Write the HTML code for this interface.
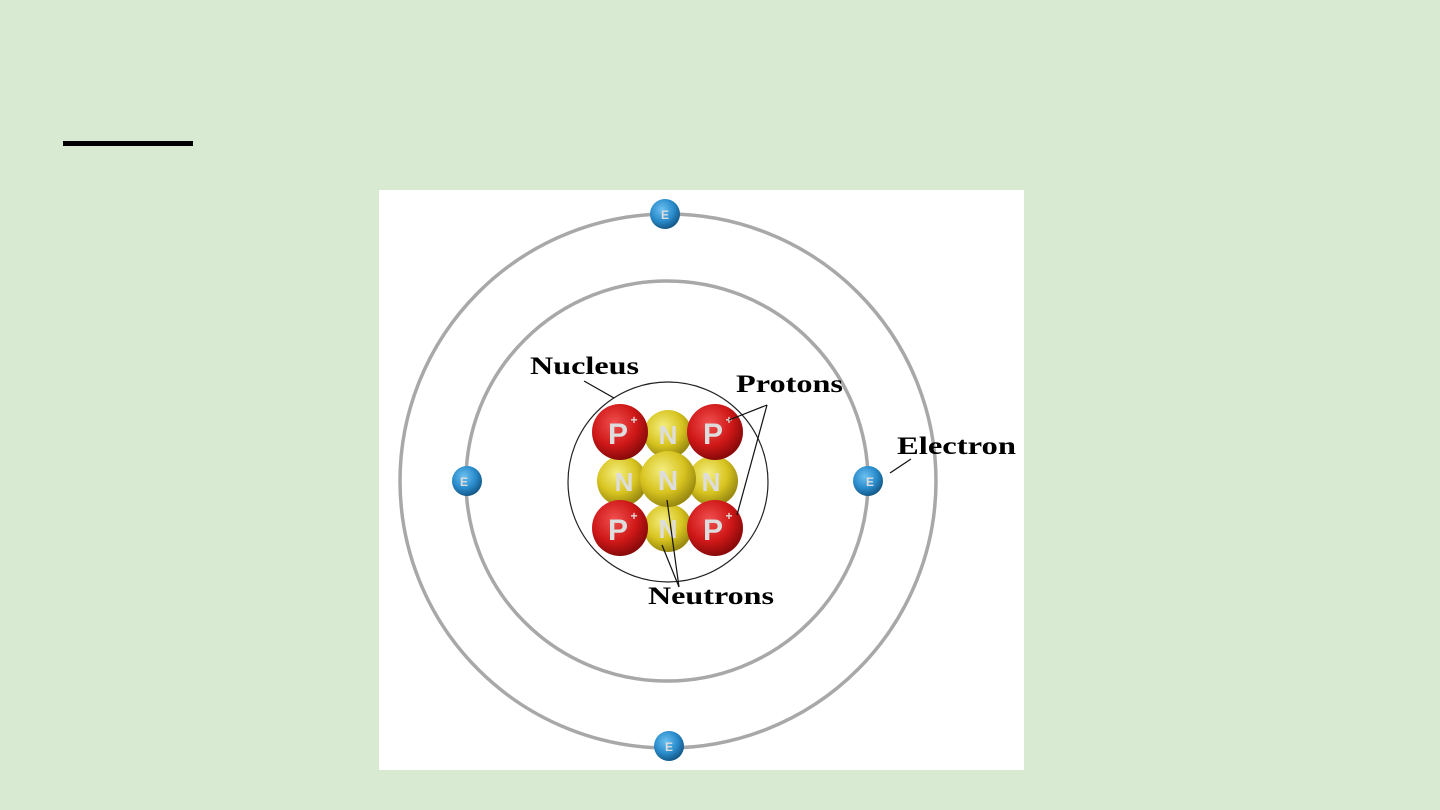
<!DOCTYPE html>
<html><head><meta charset="utf-8"><style>
html,body{margin:0;padding:0;background:#d9ead3;width:1440px;height:810px;overflow:hidden}
</style></head><body>
<svg width="1440" height="810" xmlns="http://www.w3.org/2000/svg" style="position:absolute;left:0;top:0">
<defs>
<radialGradient id="red" cx="40%" cy="35%" r="65%"><stop offset="0" stop-color="#f05050"/><stop offset="0.6" stop-color="#d01818"/><stop offset="1" stop-color="#8a0a0a"/></radialGradient>
<radialGradient id="yel" cx="40%" cy="35%" r="65%"><stop offset="0" stop-color="#f4ee80"/><stop offset="0.6" stop-color="#d8c420"/><stop offset="1" stop-color="#9a8a10"/></radialGradient>
<radialGradient id="blu" cx="40%" cy="35%" r="65%"><stop offset="0" stop-color="#6cc0f0"/><stop offset="0.6" stop-color="#2a8ccc"/><stop offset="1" stop-color="#155a8a"/></radialGradient>
</defs>
<rect x="63" y="141" width="130" height="5" fill="#000"/>
<rect x="379" y="190" width="645" height="580" fill="#fff"/>
<ellipse cx="668" cy="481" rx="268" ry="267" fill="none" stroke="#a8a8a8" stroke-width="3.5"/>
<ellipse cx="667" cy="481" rx="201" ry="200" fill="none" stroke="#a8a8a8" stroke-width="3.5"/>
<circle cx="668" cy="482" r="100" fill="none" stroke="#222" stroke-width="1.2"/>
<g font-family="Liberation Sans, sans-serif" font-weight="bold" text-anchor="middle" fill="#ddd">
<circle cx="668" cy="434" r="24" fill="url(#yel)"/><text x="668" y="444" font-size="26">N</text>
<circle cx="668" cy="528" r="24" fill="url(#yel)"/><text x="668" y="538" font-size="26">N</text>
<circle cx="622" cy="481" r="25" fill="url(#yel)"/><text x="624" y="491" font-size="26">N</text>
<circle cx="713" cy="481" r="25" fill="url(#yel)"/><text x="711" y="491" font-size="26">N</text>
<circle cx="620" cy="432" r="28" fill="url(#red)"/><text x="618" y="444" font-size="30">P</text><text x="634" y="424" font-size="12">+</text>
<circle cx="715" cy="432" r="28" fill="url(#red)"/><text x="713" y="444" font-size="30">P</text><text x="729" y="424" font-size="12">+</text>
<circle cx="620" cy="528" r="28" fill="url(#red)"/><text x="618" y="540" font-size="30">P</text><text x="634" y="520" font-size="12">+</text>
<circle cx="715" cy="528" r="28" fill="url(#red)"/><text x="713" y="540" font-size="30">P</text><text x="729" y="520" font-size="12">+</text>
<circle cx="668" cy="479" r="28" fill="url(#yel)"/><text x="668" y="490" font-size="28">N</text>
<circle cx="665" cy="214" r="15" fill="url(#blu)"/><text x="665" y="219" font-size="12">E</text>
<circle cx="467" cy="481" r="15" fill="url(#blu)"/><text x="464" y="486" font-size="12">E</text>
<circle cx="868" cy="481" r="15" fill="url(#blu)"/><text x="870" y="486" font-size="12">E</text>
<circle cx="669" cy="746" r="15" fill="url(#blu)"/><text x="669" y="751" font-size="12">E</text>
</g>
<g stroke="#111" stroke-width="1.2" fill="none">
<line x1="584" y1="381" x2="614" y2="398"/>
<line x1="767" y1="405" x2="729" y2="420"/>
<line x1="767" y1="405" x2="737" y2="515"/>
<line x1="911" y1="459" x2="890" y2="473"/>
<line x1="679" y1="587" x2="667" y2="500"/>
<line x1="679" y1="587" x2="662" y2="545"/>
</g>
<g font-family="Liberation Serif, serif" font-weight="bold" font-size="25" fill="#000" lengthAdjust="spacingAndGlyphs">
<text x="530" y="374" textLength="109" lengthAdjust="spacingAndGlyphs">Nucleus</text>
<text x="736" y="392" textLength="107" lengthAdjust="spacingAndGlyphs">Protons</text>
<text x="897" y="454" textLength="119" lengthAdjust="spacingAndGlyphs">Electron</text>
<text x="648" y="604" textLength="126" lengthAdjust="spacingAndGlyphs">Neutrons</text>
</g>
</svg>
</body></html>
